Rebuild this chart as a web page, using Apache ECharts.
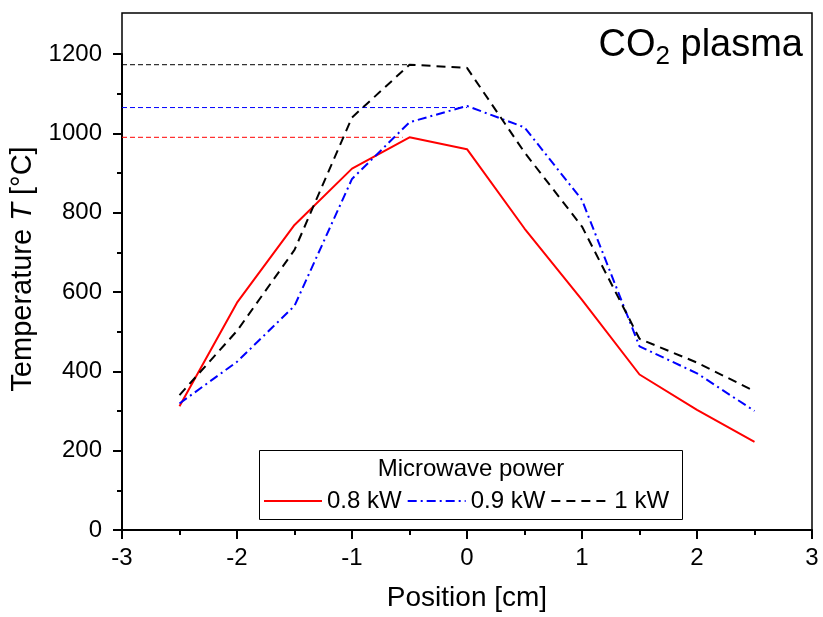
<!DOCTYPE html>
<html>
<head>
<meta charset="utf-8">
<script src="https://cdn.jsdelivr.net/npm/echarts@6/dist/echarts.min.js"></script>
<style>
  html, body { margin: 0; padding: 0; background: #fff; }
  #chart { width: 823px; height: 617px; }
</style>
</head>
<body>
<div id="chart"></div>
<script>
// positions along the torch [cm]
const positions = [-2.5, -2, -1.5, -1, -0.5, 0, 0.5, 1, 1.5, 2, 2.5];
// temperature [°C] per microwave power
const temp08 = [312, 573, 769, 911, 990, 960, 760, 580, 392, 303, 222];
const temp09 = [319, 424, 565, 885, 1028, 1069, 1015, 832, 463, 395, 300];
const temp10 = [340, 502, 706, 1040, 1173, 1165, 952, 765, 482, 422, 350];
const seriesNames = ['0.8 kW', '0.9 kW', '1 kW'];
// dashed guide lines at each peak: level and where they stop
const refLevels = [990, 1065, 1173];
const refEnds = [-0.56, 0, -0.5];
const xTicks = [-3, -2, -1, 0, 1, 2, 3];
const yTicks = [0, 200, 400, 600, 800, 1000, 1200];

const font = "'Liberation Sans', Arial, sans-serif";
const colors = ['#ff0000', '#0000ff', '#000000'];
const dashes = ['solid', [9, 4, 2, 4], [9, 6]];
const values = [temp08, temp09, temp10];

const chart = echarts.init(document.getElementById('chart'));

const series = [];
values.forEach((vals, i) => {
  series.push({
    name: seriesNames[i],
    type: 'line',
    symbol: 'none',
    data: positions.map((p, k) => [p, vals[k]]),
    lineStyle: { color: colors[i], width: 2, type: dashes[i] },
    itemStyle: { color: colors[i] },
    z: 3
  });
  // thin dashed guide from the y axis to the peak
  series.push({
    name: 'guide ' + seriesNames[i],
    type: 'line',
    symbol: 'none',
    silent: true,
    data: [[xTicks[0], refLevels[i]], [refEnds[i], refLevels[i]]],
    lineStyle: { color: colors[i], width: 1, type: [5, 3] },
    itemStyle: { color: colors[i] },
    z: 2
  });
});

const option = {
  animation: false,
  backgroundColor: '#fff',
  grid: { left: 122, right: 11, top: 54, bottom: 87 },
  xAxis: {
    type: 'value',
    min: xTicks[0],
    max: xTicks[xTicks.length - 1],
    interval: 1,
    name: 'Position [cm]',
    nameLocation: 'middle',
    nameGap: 54,
    nameTextStyle: { fontFamily: font, fontSize: 28, color: '#000' },
    axisLine: { onZero: false, lineStyle: { color: '#000', width: 2 } },
    axisTick: { length: 9, lineStyle: { color: '#000', width: 2 } },
    minorTick: { show: true, splitNumber: 2, length: 5, lineStyle: { color: '#000', width: 2 } },
    splitLine: { show: false },
    axisLabel: { fontFamily: font, fontSize: 24, color: '#000', margin: 16 }
  },
  yAxis: {
    type: 'value',
    min: yTicks[0],
    max: yTicks[yTicks.length - 1],
    interval: 200,
    name: '{n|Temperature }{i|T}{n| [°C]}',
    nameLocation: 'middle',
    nameGap: 78,
    nameTextStyle: {
      color: '#000',
      padding: [0, 0, 0, 46],
      rich: {
        n: { fontFamily: font, fontSize: 29, color: '#000' },
        i: { fontFamily: font, fontSize: 29, fontStyle: 'italic', color: '#000' }
      }
    },
    axisLine: { onZero: false, lineStyle: { color: '#000', width: 2 } },
    axisTick: { length: 9, lineStyle: { color: '#000', width: 2 } },
    minorTick: { show: true, splitNumber: 2, length: 5, lineStyle: { color: '#000', width: 2 } },
    splitLine: { show: false },
    axisLabel: {
      fontFamily: font, fontSize: 24, color: '#000', margin: 20,
      formatter: (v) => String(v)
    }
  },
  legend: {
    data: seriesNames,
    left: 263,
    top: 489,
    orient: 'horizontal',
    itemWidth: 58,
    itemHeight: 14,
    itemGap: 5,
    padding: 0,
    z: 10,
    itemStyle: { opacity: 0 },
    textStyle: { fontFamily: font, fontSize: 24, color: '#000' }
  },
  graphic: [
    {
      type: 'rect',
      z: 0,
      shape: { x: 122, y: 13, width: 690, height: 517 },
      style: { fill: 'none', stroke: '#000', lineWidth: 1.5 }
    },
    {
      type: 'rect',
      z: 5,
      shape: { x: 259.5, y: 450.5, width: 423, height: 69 },
      style: { fill: '#fff', stroke: '#000', lineWidth: 1 }
    },
    {
      type: 'text',
      z: 6,
      x: 471,
      y: 469,
      style: {
        text: 'Microwave power',
        fontFamily: font,
        fontSize: 24,
        fill: '#000',
        align: 'center',
        verticalAlign: 'middle'
      }
    },
    {
      type: 'text',
      z: 6,
      x: 803,
      y: 46,
      style: {
        text: '{a|CO}{s|2}{a| plasma}',
        align: 'right',
        verticalAlign: 'middle',
        rich: {
          a: { fontFamily: font, fontSize: 38, fill: '#000' },
          s: { fontFamily: font, fontSize: 26, fill: '#000', padding: [22, 0, 0, 0] }
        }
      }
    }
  ],
  series: series
};

chart.setOption(option);
</script>
</body>
</html>
